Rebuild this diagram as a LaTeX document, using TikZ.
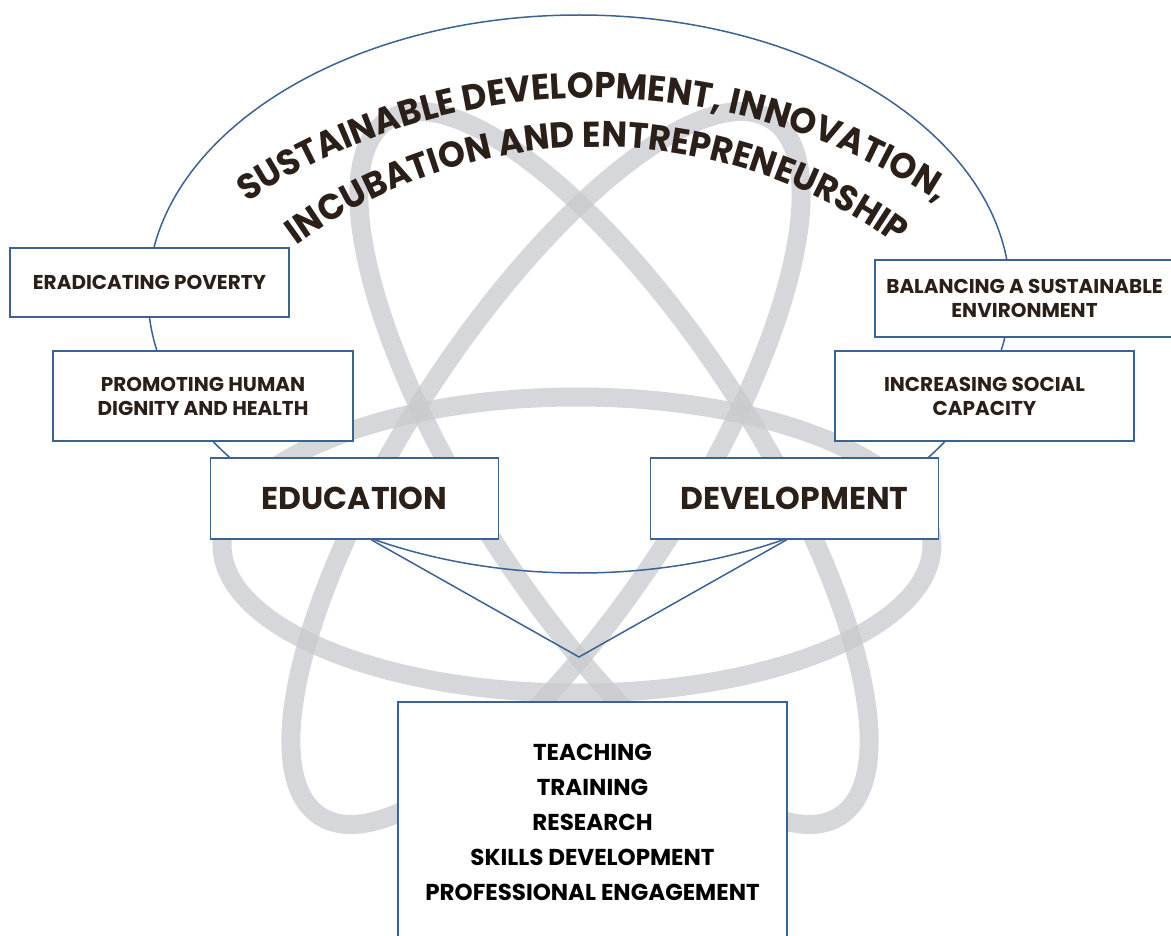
\documentclass[tikz,border=0pt]{standalone}
\usepackage{fontspec}
\setmainfont{Poppins}
\newfontfamily\archfont{Poppins}[FakeStretch=0.95]
\usetikzlibrary{decorations.text}
\definecolor{linkblue}{RGB}{59,98,148}
\definecolor{orbitgray}{RGB}{200,202,205}
\definecolor{labelbrown}{RGB}{43,31,25}

\begin{document}
\begin{tikzpicture}[
		base/.style={draw=linkblue, line width=1.8pt, fill=white, text=labelbrown, align=center,
			inner sep=0pt, font=\bfseries\fontsize{20}{24}\selectfont},
		pillar/.style={base, minimum width=288pt, minimum height=81pt,
			font=\bfseries\fontsize{31.5}{36}\selectfont},
		orbit/.style={draw=orbitgray, line width=19pt, draw opacity=0.75},
		link/.style={draw=linkblue, line width=1.5pt}
	]
	\useasboundingbox (0pt, 0pt) rectangle (1171pt, -936pt);

	\draw[orbit] (577pt, -545pt) ellipse [x radius=355pt, y radius=148pt];
	\draw[orbit] (614pt, -468pt) ellipse [x radius=415pt, y radius=141pt, rotate=-57];
	\draw[orbit] (546pt, -468pt) ellipse [x radius=415pt, y radius=141pt, rotate=57];

	\draw[link] (579pt, -294pt) ellipse [x radius=431pt, y radius=279pt];

	\node[base, minimum width=279pt, minimum height=69pt] at (149.5pt, -282.5pt) (poverty)
		{ERADICATING POVERTY};
	\node[base, minimum width=300pt, minimum height=90pt] at (203pt, -396pt) (dignity)
		{PROMOTING HUMAN\\DIGNITY AND HEALTH};
	\node[base, minimum width=299pt, minimum height=77pt] at (1024.5pt, -298.5pt) (environment)
		{BALANCING A SUSTAINABLE\\ENVIRONMENT};
	\node[base, minimum width=299pt, minimum height=90pt] at (984.5pt, -396pt) (capacity)
		{INCREASING SOCIAL\\CAPACITY};
	\node[pillar] at (354.5pt, -498.5pt) (education) {EDUCATION};
	\node[pillar] at (794.5pt, -498.5pt) (development) {DEVELOPMENT};
	\node[base, anchor=north, text=black, minimum width=389pt, minimum height=242pt,
		font=\bfseries\fontsize{23}{35}\selectfont] at (592.5pt, -701pt) (activities)
		{TEACHING\\TRAINING\\RESEARCH\\SKILLS DEVELOPMENT\\PROFESSIONAL ENGAGEMENT};

	\coordinate (apex) at (579pt, -657pt);
	\draw[link] ([xshift=17pt]education.south) -- (apex) -- ([xshift=-8pt]development.south);

	\path[decorate, decoration={text along path, text align=center, text color=labelbrown,
		text={|\archfont\bfseries\fontsize{36}{36}\selectfont|SUSTAINABLE DEVELOPMENT, INNOVATION,}}]
		(151.8pt, -280.8pt) arc[start angle=135, end angle=45, radius=624pt];
	\path[decorate, decoration={text along path, text align=center, text color=labelbrown,
		text={|\archfont\bfseries\fontsize{36}{36}\selectfont|INCUBATION AND ENTREPRENEURSHIP}}]
		(207.8pt, -328.5pt) arc[start angle=140, end angle=40, radius=508pt];

\end{tikzpicture}
\end{document}
